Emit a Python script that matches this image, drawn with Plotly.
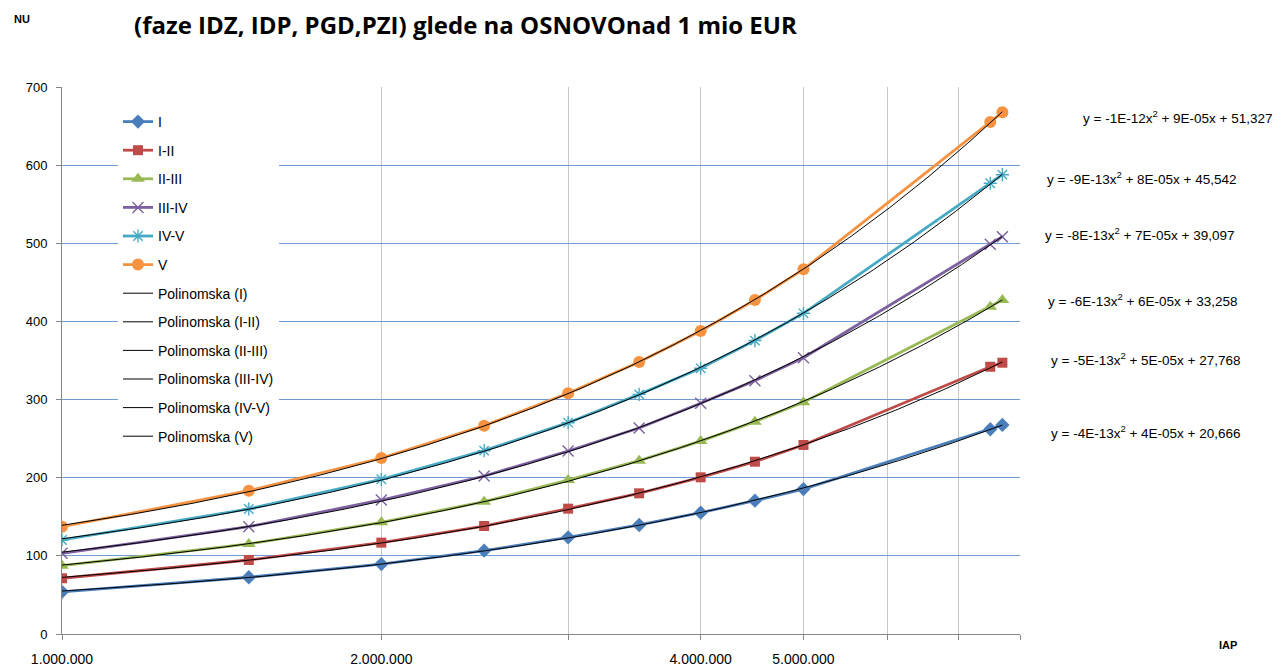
import numpy as np
import plotly.graph_objects as go

# ---- data ----
x_vals = [1.0e6, 1.5e6, 2.0e6, 2.5e6, 3.0e6, 3.5e6, 4.0e6, 4.5e6, 5.0e6, 7.5e6, 7.7e6]
s_I     = [54.0, 72.6, 89.5, 106.6, 123.7, 139.5, 155.3, 170.6, 185.5, 262.0, 267.5]
s_I_II  = [71.3, 94.7, 116.9, 138.2, 160.4, 180.0, 200.5, 220.5, 241.9, 342.0, 347.2]
s_II_III = [87.4, 115.2, 143.0, 169.3, 197.0, 221.8, 246.9, 271.7, 296.5, 418.9, 427.4]
s_III_IV = [103.2, 137.3, 171.5, 202.2, 234.2, 263.6, 295.2, 324.2, 353.6, 498.7, 508.5]
s_IV_V  = [120.3, 160.0, 198.0, 234.6, 270.4, 306.7, 340.0, 375.5, 410.4, 576.8, 587.8]
s_V     = [137.3, 183.4, 225.2, 266.6, 308.0, 348.1, 387.8, 427.4, 466.7, 655.2, 667.6]

series_names = ["I", "I-II", "II-III", "III-IV", "IV-V", "V"]
series_values = [s_I, s_I_II, s_II_III, s_III_IV, s_IV_V, s_V]
equations = [
    "y = -4E-13x<sup>2</sup> + 4E-05x + 20,666",
    "y = -5E-13x<sup>2</sup> + 5E-05x + 27,768",
    "y = -6E-13x<sup>2</sup> + 6E-05x + 33,258",
    "y = -8E-13x<sup>2</sup> + 7E-05x + 39,097",
    "y = -9E-13x<sup>2</sup> + 8E-05x + 45,542",
    "y = -1E-12x<sup>2</sup> + 9E-05x + 51,327",
]
x_tickvals = [1e6, 2e6, 3e6, 4e6, 5e6, 6e6, 7e6, 8e6]
x_ticktext = ["1.000.000", "2.000.000", "", "4.000.000", "5.000.000", "", "", ""]
y_tickvals = [0, 100, 200, 300, 400, 500, 600, 700]

# ---- styles ----
colors = ["#4A7EBB", "#BE4B48", "#98B954", "#7D60A0", "#46AAC5", "#F69240"]
symbols = ["diamond", "square", "triangle-up", "x-thin", "asterisk", "circle"]
msizes = [11, 10, 12, 11, 11, 12]

OFF = 8  # page body margin
W, H = 1285 - OFF, 667 - OFF
L, R, T, B = 62, 1020, 87, 634  # plot area in window pixels


def px(xp):
    return (xp - L) / (R - L)


def py(yp):
    return (B - yp) / (B - T)


fig = go.Figure()

for i, (name, vals) in enumerate(zip(series_names, series_values)):
    sym = symbols[i]
    if sym in ("x-thin", "asterisk"):
        marker = dict(symbol=sym, size=msizes[i], color=colors[i],
                      line=dict(width=1.4, color=colors[i]))
    else:
        marker = dict(symbol=sym, size=msizes[i], color=colors[i],
                      line=dict(width=0))
    fig.add_trace(go.Scatter(
        x=x_vals, y=vals, mode="lines+markers", name=name,
        line=dict(color=colors[i], width=2.8), marker=marker,
        legendgroup=name,
    ))

# polynomial (order 2) trendlines fitted to each series
xs = np.logspace(np.log10(min(x_vals)), np.log10(max(x_vals)), 300)
for i, (name, vals) in enumerate(zip(series_names, series_values)):
    c = np.polyfit(np.array(x_vals), np.array(vals), 2)
    fig.add_trace(go.Scatter(
        x=xs, y=np.polyval(c, xs), mode="lines",
        name=f"Polinomska ({name})",
        line=dict(color="black", width=1),
        legendgroup=f"p{name}",
    ))

annotations = [
    dict(text="<b>NU</b>", x=px(22), y=py(19), xref="paper", yref="paper",
         showarrow=False, font=dict(size=11, color="#000"), xanchor="center", yanchor="middle"),
    dict(text="<b>(faze IDZ, IDP, PGD,PZI) glede na OSNOVOnad 1 mio EUR</b>",
         x=px(133), y=py(24), xref="paper", yref="paper", showarrow=False, borderpad=0,
         font=dict(size=24, color="#000", family="Open Sans"), xanchor="left", yanchor="middle"),
    dict(text="<b>IAP</b>", x=px(1228), y=py(645), xref="paper", yref="paper",
         showarrow=False, font=dict(size=11, color="#000"), xanchor="center", yanchor="middle"),
]
eq_pos = [(1146, 432), (1146, 359), (1143, 300), (1140, 234), (1142, 178), (1178, 117)]
for eq, (ex, ey) in zip(equations, eq_pos):
    annotations.append(dict(text=eq, x=px(ex), y=py(ey), xref="paper", yref="paper",
                            showarrow=False, font=dict(size=13.5, color="#000"),
                            xanchor="center", yanchor="middle"))

fig.update_layout(
    width=W, height=H,
    margin=dict(l=L - OFF, r=W - (R - OFF), t=T - OFF, b=H - (B - OFF)),
    paper_bgcolor="white", plot_bgcolor="white",
    font=dict(family="Liberation Sans, Arial, sans-serif", size=13, color="#000"),
    showlegend=True,
    legend=dict(x=px(118), y=py(106), xanchor="left", yanchor="top",
                bgcolor="white", font=dict(size=14), tracegroupgap=7.4,
                itemwidth=30),
    annotations=annotations,
    xaxis=dict(type="log", range=[6, np.log10(8e6)], tickvals=x_tickvals,
               ticktext=x_ticktext, showgrid=True, gridcolor="#C8C8C8", gridwidth=1,
               showline=True, linecolor="#868686", linewidth=1,
               ticks="outside", ticklen=5, tickcolor="#868686",
               tickfont=dict(size=14), ticklabelstandoff=7, zeroline=False,
               automargin=False),
    yaxis=dict(range=[0, 700], tickvals=y_tickvals, showgrid=True,
               gridcolor="#6F9AD3", gridwidth=1,
               showline=True, linecolor="#868686", linewidth=1,
               ticks="outside", ticklen=5, tickcolor="#868686",
               tickfont=dict(size=13), ticklabelstandoff=6, zeroline=False),
)

fig.write_html("out.html")
